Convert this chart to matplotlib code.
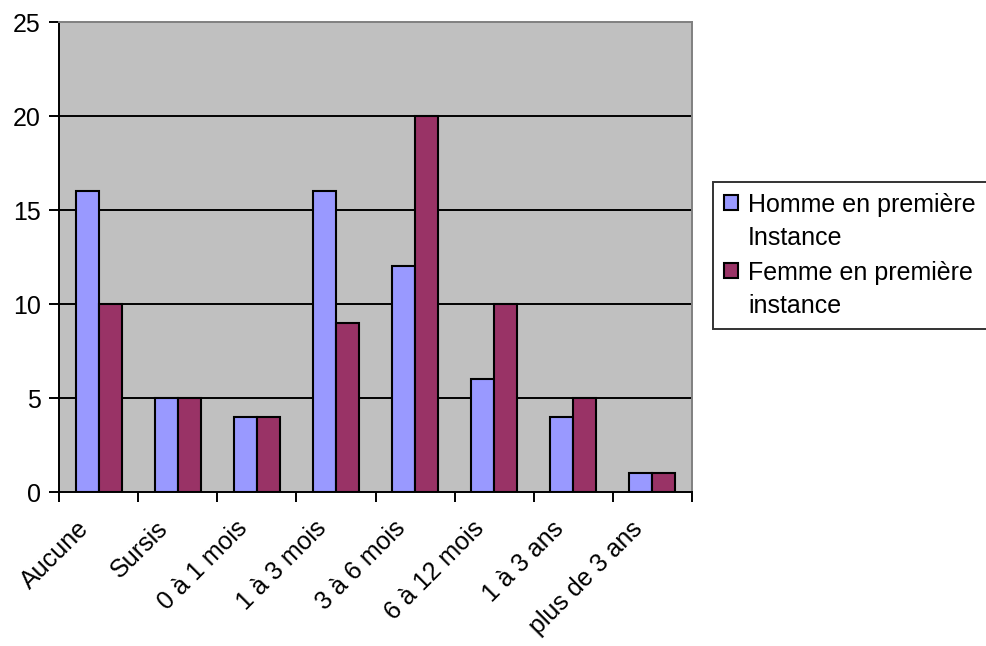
import matplotlib
matplotlib.use("Agg")
import matplotlib.pyplot as plt
import numpy as np
from matplotlib.container import BarContainer
from matplotlib.legend_handler import HandlerPatch, update_from_first_child
from matplotlib.patches import Rectangle

plt.rcParams['font.family'] = ['Liberation Sans', 'DejaVu Sans']

categories = ["Aucune", "Sursis", "0 à 1 mois", "1 à 3 mois", "3 à 6 mois",
              "6 à 12 mois", "1 à 3 ans", "plus de 3 ans"]
hommes = [16, 5, 4, 16, 12, 6, 4, 1]
femmes = [10, 5, 4, 9, 20, 10, 5, 1]
series_names = ["Homme en première\nInstance", "Femme en première\ninstance"]
yticks = [0, 5, 10, 15, 20, 25]

FS = 18
LINESP = 1.45

fig = plt.figure(figsize=(9.87, 6.46), dpi=100)
ax = fig.add_axes([59/987, 1 - 492/646, (692 - 59)/987, (492 - 22)/646])
ax.set_facecolor('#C0C0C0')

x = np.arange(len(categories))
w = 0.29
ax.bar(x - w/2, hommes, w, color='#9999FF', edgecolor='black', linewidth=1.5,
       label=series_names[0], zorder=3)
ax.bar(x + w/2, femmes, w, color='#993366', edgecolor='black', linewidth=1.5,
       label=series_names[1], zorder=3)

ax.set_xlim(-0.5, len(categories) - 0.5)
ax.set_ylim(0, 25)
ax.set_yticks(yticks)
ax.set_yticklabels([str(v) for v in yticks], fontsize=FS)
for v in yticks[1:-1]:
    ax.axhline(v, color='black', linewidth=1.4, zorder=1)

ax.set_xticks(np.arange(len(categories) + 1) - 0.5)
ax.set_xticklabels([])
ax.tick_params(axis='x', direction='out', length=7, width=1.4)
ax.tick_params(axis='y', direction='out', length=7, width=1.4, pad=6)
for i, c in enumerate(categories):
    ax.text(i - 0.17, -1.75, c, rotation=45, ha='right', va='center',
            rotation_mode='anchor', fontsize=FS, transform=ax.transData)

for s in ['left', 'bottom']:
    ax.spines[s].set_color('black')
    ax.spines[s].set_linewidth(1.4)
for s in ['top', 'right']:
    ax.spines[s].set_color('#808080')
    ax.spines[s].set_linewidth(1.4)

SHIFT = 14.0  # points: raise legend swatch to first text line


def make_patch(legend, orig_handle, xdescent, ydescent, width, height, fontsize):
    return Rectangle((-xdescent, -ydescent + SHIFT), width, height)


leg = fig.legend(loc='upper left', bbox_to_anchor=(713/987, 1 - 182/646),
                 fontsize=FS, frameon=True, fancybox=False, edgecolor='black',
                 handlelength=0.55, handleheight=0.55, handletextpad=0.4,
                 borderpad=0.45, labelspacing=0.45, borderaxespad=0,
                 handler_map={BarContainer: HandlerPatch(
                     patch_func=make_patch, update_func=update_from_first_child)})
leg.get_frame().set_linewidth(1.4)
for t in leg.get_texts():
    t.set_linespacing(LINESP)

fig.savefig('out.png', dpi=100)
